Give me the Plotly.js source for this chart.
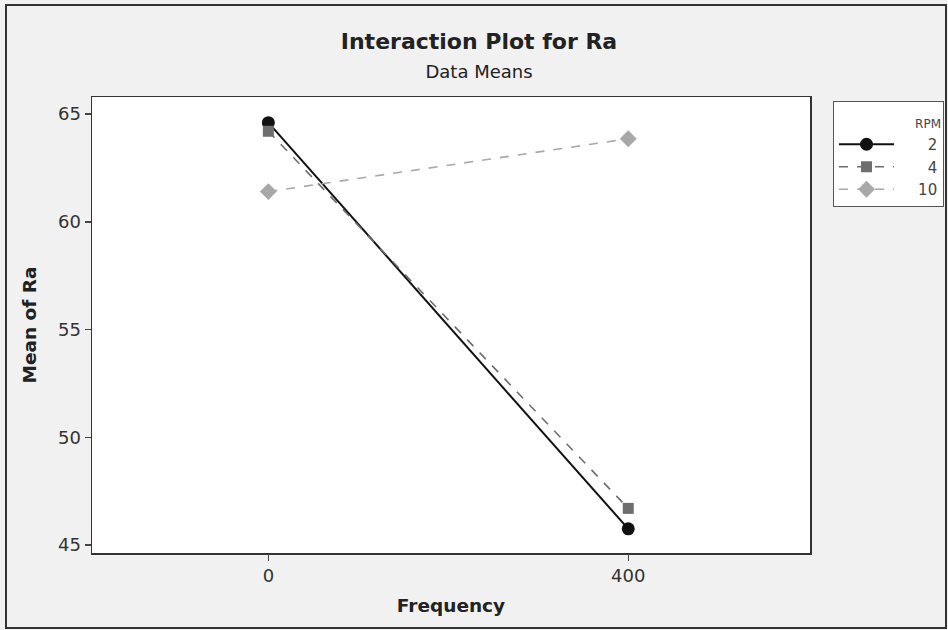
<!DOCTYPE html>
<html>
<head>
<meta charset="utf-8">
<script src="https://cdn.plot.ly/plotly-3.0.1.min.js"></script>
<style>
  html, body { margin: 0; padding: 0; background: #ffffff; }
  #chart { width: 948px; height: 630px; }
</style>
</head>
<body>
<div id="chart"></div>
<script>
// ---- data ----
const frequency = [0, 400];
const rpmLevels = ["2", "4", "10"];
const meanRa_rpm2 = [64.6, 45.75];
const meanRa_rpm4 = [64.2, 46.7];
const meanRa_rpm10 = [61.4, 63.85];
const yTicks = [45, 50, 55, 60, 65];
const xTicks = [0, 400];

const FONT = "DejaVu Sans, Verdana, sans-serif";
const pad = s => "\u2007".repeat(Math.max(0, 4 - s.length)) + s;

const styles = [
  {color: "#111111", dash: "solid", symbol: "circle", size: 13},
  {color: "#6e6e6e", dash: "dash", symbol: "square", size: 11},
  {color: "#a8a8a8", dash: "dash", symbol: "diamond", size: 13}
];
const series = [meanRa_rpm2, meanRa_rpm4, meanRa_rpm10];

const traces = series.map((ys, i) => ({
  x: frequency,
  y: ys,
  type: "scatter",
  mode: "lines+markers",
  name: pad(rpmLevels[i]),
  line: {color: styles[i].color, width: i === 0 ? 2 : 1.6, dash: styles[i].dash},
  marker: {color: styles[i].color, symbol: styles[i].symbol, size: styles[i].size}
}));

// plot area in pixels: left 92, right 810, top 97, bottom 553
const L = 92, R = 810, T = 97, B = 553, W = 948, H = 630;
const pw = R - L, ph = B - T;
const px = x => (x - L) / pw;
const py = y => (B - y) / ph;

const layout = {
  width: W, height: H,
  margin: {l: L, r: W - R, t: T, b: H - B, pad: 0},
  paper_bgcolor: "#f1f1f1",
  plot_bgcolor: "#ffffff",
  font: {family: FONT, color: "#333333", size: 15},
  title: {
    text: "<b>Interaction Plot for Ra</b><br><span style='font-size:18px;font-weight:normal'>Data Means</span>",
    x: 479 / W, xref: "container", xanchor: "center",
    y: 1 - 49 / H, yref: "container", yanchor: "top",
    font: {family: FONT, size: 22, color: "#222222"}
  },
  showlegend: true,
  legend: {
    xref: "container", yref: "container",
    x: 833 / W, xanchor: "left", y: 1 - 101 / H, yanchor: "top",
    bgcolor: "#ffffff", bordercolor: "#555555", borderwidth: 1,
    font: {family: FONT, size: 15, color: "#444444"},
    title: {text: "<span style='font-size:12px'>RPM</span>", side: "top right",
            font: {family: FONT, size: 20, color: "#444444"}},
    itemwidth: 55, tracegroupgap: 0
  },
  xaxis: {
    range: [-196, 602],
    tickvals: xTicks, ticktext: xTicks.map(String),
    ticks: "outside", ticklen: 6, tickwidth: 1.5, tickcolor: "#444444",
    showgrid: false, zeroline: false,
    showline: true, linecolor: "#333333", linewidth: 1.5, mirror: true,
    tickfont: {family: FONT, size: 18, color: "#333333"},
    title: {text: "<b>Frequency</b>", standoff: 14, font: {family: FONT, size: 18.5, color: "#222222"}},
    automargin: false
  },
  yaxis: {
    range: [44.63, 65.79],
    tickvals: yTicks, ticktext: yTicks.map(String),
    ticks: "outside", ticklen: 6, tickwidth: 1.5, tickcolor: "#444444",
    showgrid: false, zeroline: false,
    showline: true, linecolor: "#333333", linewidth: 1.5, mirror: true,
    tickfont: {family: FONT, size: 18, color: "#333333"},
    title: {text: "<b>Mean of Ra</b>", standoff: 16, font: {family: FONT, size: 18.5, color: "#222222"}},
    automargin: false
  },
  shapes: [
    {type: "rect", xref: "paper", yref: "paper", layer: "below",
     x0: px(6), x1: px(946), y0: py(628), y1: py(5),
     line: {color: "#333333", width: 2}, fillcolor: "rgba(0,0,0,0)"}
  ]
};

Plotly.newPlot("chart", traces, layout, {displayModeBar: false, staticPlot: true});
</script>
</body>
</html>
